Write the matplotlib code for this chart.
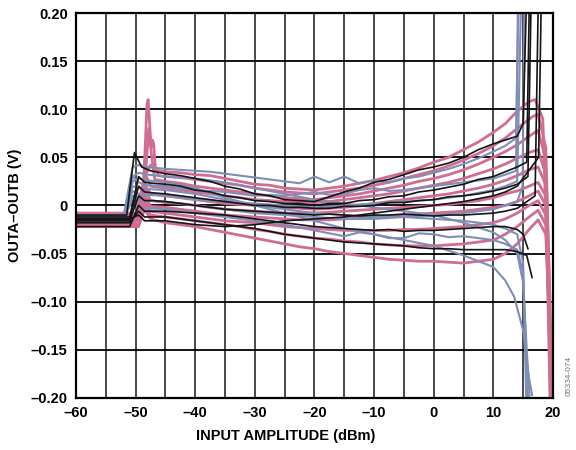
import matplotlib
matplotlib.use("Agg")
import matplotlib.pyplot as plt
import numpy as np

plt.rcParams['font.family'] = ['Liberation Sans', 'DejaVu Sans']
plt.rcParams['font.weight'] = 'bold'

PINK = "#d06d93"
BLUE = "#7f8eb6"
BLACK = "#141414"

# shared grid for the middle part of every trace (dBm)
MID_X = [-45, -42.5, -40, -37.5, -35, -32.5, -30, -27.5, -25, -22.5, -20, -17.5,
         -15, -12.5, -10, -7.5, -5, -2.5, 0, 2.5, 5, 7.5, 10]

# each trace: head x/y (turn-on region), mid y on MID_X, tail x/y (limiting region)
pink_traces = [
    dict(hx=[-60, -50, -48.5, -47.5, -46.8], hy=[-0.010, -0.010, 0.030, 0.042, 0.037],
         my=[0.035, 0.034, 0.032, 0.031, 0.028, 0.025, 0.022, 0.021, 0.018, 0.017, 0.016, 0.018, 0.020,
             0.023, 0.026, 0.030, 0.034, 0.039, 0.045, 0.050, 0.058, 0.066, 0.076],
         tx=[12, 14, 16, 17, 18.3, 19.0, 19.5], ty=[0.085, 0.098, 0.108, 0.110, 0.09, -0.05, -0.2]),
    dict(hx=[-60, -49.5, -48.8, -48.4, -48.1, -47.9, -47.7, -47.4, -47.2, -47.0, -46.7, -46.2],
         hy=[-0.014, -0.014, 0.010, 0.060, 0.105, 0.110, 0.090, 0.060, 0.068, 0.065, 0.040, 0.031],
         my=[0.030, 0.029, 0.027, 0.025, 0.023, 0.021, 0.018, 0.016, 0.014, 0.013, 0.012, 0.014, 0.016,
             0.018, 0.021, 0.024, 0.028, 0.032, 0.036, 0.041, 0.047, 0.054, 0.062],
         tx=[12, 14, 16.5, 17.5, 18.8, 19.4, 19.7], ty=[0.070, 0.080, 0.092, 0.095, 0.06, -0.08, -0.2]),
    dict(hx=[-60, -50, -48.6, -48.2, -47.8, -47.3, -46.8], hy=[-0.018, -0.018, 0.010, 0.045, 0.080, 0.050, 0.027],
         my=[0.025, 0.023, 0.020, 0.018, 0.016, 0.014, 0.012, 0.010, 0.008, 0.007, 0.006, 0.008, 0.010,
             0.012, 0.015, 0.018, 0.021, 0.025, 0.028, 0.032, 0.037, 0.043, 0.050],
         tx=[12, 14, 16, 17.5, 18.7, 19.3, 19.6], ty=[0.056, 0.063, 0.072, 0.078, 0.05, -0.1, -0.2]),
    dict(hx=[-60, -49.5, -48.2, -47.5], hy=[-0.008, -0.008, 0.030, 0.020],
         my=[0.018, 0.016, 0.014, 0.012, 0.010, 0.008, 0.006, 0.005, 0.004, 0.003, 0.003, 0.004, 0.006,
             0.008, 0.010, 0.012, 0.015, 0.018, 0.021, 0.024, 0.028, 0.033, 0.038],
         tx=[12, 14, 16, 17.5, 18.9, 19.4, 19.8], ty=[0.043, 0.049, 0.055, 0.058, 0.03, -0.12, -0.2]),
    dict(hx=[-60, -49.5, -48.3, -47.5], hy=[-0.020, -0.020, 0.020, 0.012],
         my=[0.010, 0.008, 0.006, 0.004, 0.002, 0.001, 0.000, -0.001, -0.002, -0.003, -0.004, -0.003, -0.002,
             0.000, 0.002, 0.004, 0.006, 0.008, 0.010, 0.012, 0.015, 0.018, 0.022],
         tx=[12, 14, 16, 17.5, 18.9, 19.5, 19.8], ty=[0.026, 0.031, 0.037, 0.040, 0.02, -0.1, -0.2]),
    dict(hx=[-60, -49.5, -48.3, -47.5], hy=[-0.012, -0.012, 0.015, 0.005],
         my=[0.003, 0.002, 0.000, -0.002, -0.004, -0.005, -0.006, -0.007, -0.008, -0.008, -0.008, -0.007, -0.006,
             -0.005, -0.004, -0.003, -0.002, -0.001, 0.000, 0.001, 0.003, 0.005, 0.008],
         tx=[12, 14, 16, 17.5, 18.8, 19.3, 19.7], ty=[0.012, 0.015, 0.020, 0.024, 0.01, -0.1, -0.2]),
    dict(hx=[-60, -49.5, -48.4, -47.5], hy=[-0.016, -0.016, 0.010, -0.001],
         my=[-0.002, -0.004, -0.006, -0.008, -0.010, -0.011, -0.012, -0.013, -0.014, -0.015, -0.015, -0.015, -0.014,
             -0.013, -0.012, -0.011, -0.010, -0.009, -0.008, -0.007, -0.006, -0.004, -0.002],
         tx=[12, 14, 16, 17.5, 18.8, 19.4, 19.7], ty=[0.000, 0.004, 0.010, 0.015, 0.0, -0.1, -0.2]),
    dict(hx=[-60, -49.5, -48.4, -47.5], hy=[-0.010, -0.010, 0.005, -0.006],
         my=[-0.008, -0.010, -0.012, -0.014, -0.016, -0.017, -0.018, -0.020, -0.022, -0.023, -0.024, -0.025, -0.026,
             -0.026, -0.026, -0.026, -0.025, -0.025, -0.024, -0.023, -0.022, -0.020, -0.018],
         tx=[12, 14, 16, 17.5, 18.8, 19.4, 19.7], ty=[-0.014, -0.008, 0.000, 0.005, -0.01, -0.1, -0.2]),
    dict(hx=[-60, -49.5, -48.4, -47.5], hy=[-0.022, -0.022, 0.000, -0.010],
         my=[-0.012, -0.014, -0.016, -0.018, -0.020, -0.022, -0.025, -0.027, -0.030, -0.032, -0.034, -0.035, -0.037,
             -0.038, -0.040, -0.041, -0.042, -0.042, -0.042, -0.041, -0.040, -0.038, -0.036],
         tx=[12, 14, 16, 17.5, 18.8, 19.4, 19.7], ty=[-0.030, -0.022, -0.012, -0.005, -0.02, -0.12, -0.2]),
    dict(hx=[-60, -49.5, -48.4, -47.5], hy=[-0.015, -0.015, -0.005, -0.014],
         my=[-0.018, -0.020, -0.022, -0.025, -0.028, -0.031, -0.034, -0.037, -0.040, -0.043, -0.045, -0.048, -0.050,
             -0.052, -0.054, -0.056, -0.057, -0.058, -0.058, -0.059, -0.060, -0.058, -0.056],
         tx=[12, 14, 16, 17.5, 18.8, 19.4, 19.7], ty=[-0.050, -0.040, -0.025, -0.015, -0.03, -0.12, -0.2]),
]

blue_traces = [
    dict(hx=[-60, -52, -50.5, -49.5, -48], hy=[-0.010, -0.010, 0.040, 0.042, 0.040],
         my=[0.038, 0.037, 0.036, 0.035, 0.033, 0.031, 0.029, 0.027, 0.025, 0.023, 0.030, 0.024, 0.030,
             0.023, 0.026, 0.024, 0.028, 0.030, 0.034, 0.038, 0.043, 0.049, 0.056],
         tx=[12, 13.8, 14.2], ty=[0.062, 0.070, 0.2]),
    dict(hx=[-60, -52, -50.5, -49.5, -48], hy=[-0.012, -0.012, 0.030, 0.034, 0.032],
         my=[0.030, 0.029, 0.028, 0.026, 0.024, 0.021, 0.018, 0.015, 0.012, 0.009, 0.006, 0.004, 0.002,
             0.000, -0.002, -0.004, -0.006, -0.008, -0.010, -0.014, -0.018, -0.023, -0.028],
         tx=[12, 14, 15, 15.6, 16.1], ty=[-0.036, -0.050, -0.080, -0.150, -0.2]),
    dict(hx=[-60, -52, -50.5, -49.5, -48], hy=[-0.014, -0.014, 0.025, 0.028, 0.026],
         my=[0.024, 0.021, 0.018, 0.013, 0.008, 0.004, 0.000, -0.004, -0.008, -0.012, -0.016, -0.020, -0.024,
             -0.027, -0.030, -0.033, -0.036, -0.039, -0.042, -0.047, -0.052, -0.058, -0.064],
         tx=[12, 13.5, 15, 16, 16.5], ty=[-0.078, -0.095, -0.130, -0.180, -0.197]),
    dict(hx=[-60, -52, -50.5, -49.5, -48], hy=[-0.012, -0.012, 0.020, 0.018, 0.017],
         my=[0.016, 0.014, 0.012, 0.009, 0.006, 0.003, 0.000, -0.002, -0.004, -0.006, -0.008, -0.009, -0.010,
             -0.011, -0.012, -0.012, -0.012, -0.013, -0.014, -0.015, -0.016, -0.018, -0.020],
         tx=[12, 14, 15, 15.5], ty=[-0.024, -0.030, -0.060, -0.2]),
    dict(hx=[-60, -52, -50.5, -49.5, -48], hy=[-0.010, -0.010, 0.015, 0.012, 0.011],
         my=[0.010, 0.008, 0.006, 0.005, 0.004, 0.003, 0.002, 0.001, 0.000, -0.001, -0.002, -0.001, 0.000,
             0.001, 0.002, 0.003, 0.004, 0.005, 0.006, 0.008, 0.010, 0.013, 0.016],
         tx=[12, 14, 14.6], ty=[0.020, 0.025, 0.2]),
    dict(hx=[-60, -52, -50.5, -49.5, -48], hy=[-0.016, -0.016, 0.010, 0.006, 0.005],
         my=[0.004, 0.002, 0.000, -0.002, -0.004, -0.006, -0.008, -0.009, -0.010, -0.011, -0.012, -0.013, -0.014,
             -0.014, -0.014, -0.013, -0.012, -0.011, -0.010, -0.009, -0.008, -0.006, -0.004],
         tx=[12, 14, 14.9, 15.2], ty=[0.000, 0.004, 0.020, 0.2]),
    dict(hx=[-60, -52, -50.5, -49.5, -48], hy=[-0.012, -0.012, 0.005, -0.002, -0.003],
         my=[-0.004, -0.006, -0.008, -0.010, -0.012, -0.014, -0.016, -0.018, -0.020, -0.023, -0.026, -0.029, -0.032,
             -0.028, -0.030, -0.034, -0.034, -0.029, -0.030, -0.033, -0.032, -0.034, -0.036],
         tx=[12, 14, 15, 15.8], ty=[-0.040, -0.046, -0.070, -0.2]),
    dict(hx=[-60, -52, -50.5, -49.5, -48], hy=[-0.010, -0.010, 0.030, 0.024, 0.021],
         my=[0.020, 0.018, 0.016, 0.015, 0.014, 0.012, 0.010, 0.011, 0.010, 0.012, 0.014, 0.011, 0.012,
             0.016, 0.018, 0.015, 0.016, 0.018, 0.020, 0.022, 0.024, 0.026, 0.028],
         tx=[12, 13.8, 14.1], ty=[0.032, 0.036, 0.2]),
]

black_traces = [
    dict(hx=[-60, -51.5, -50.2, -49, -47.5], hy=[-0.010, -0.010, 0.055, 0.040, 0.036],
         my=[0.033, 0.031, 0.028, 0.025, 0.020, 0.017, 0.012, 0.010, 0.006, 0.005, 0.004, 0.009, 0.014,
             0.018, 0.024, 0.027, 0.032, 0.037, 0.040, 0.044, 0.050, 0.058, 0.064],
         tx=[12, 14, 15, 15.5], ty=[0.068, 0.072, 0.085, 0.2]),
    dict(hx=[-60, -51, -49.5, -48.5, -47], hy=[-0.012, -0.012, 0.030, 0.024, 0.023],
         my=[0.022, 0.020, 0.016, 0.014, 0.010, 0.008, 0.005, 0.004, 0.002, 0.002, 0.000, 0.002, 0.002,
             0.005, 0.006, 0.009, 0.010, 0.014, 0.016, 0.019, 0.022, 0.027, 0.030],
         tx=[12, 14, 15.6, 16], ty=[0.035, 0.040, 0.045, 0.2]),
    dict(hx=[-60, -51, -49.5, -48.5, -47], hy=[-0.014, -0.014, 0.020, 0.014, 0.013],
         my=[0.012, 0.010, 0.008, 0.006, 0.004, 0.002, 0.000, 0.000, -0.002, -0.002, -0.003, -0.003, -0.001,
             -0.001, 0.000, 0.003, 0.003, 0.005, 0.006, 0.009, 0.010, 0.012, 0.015],
         tx=[12, 14, 15.8, 16.3], ty=[0.018, 0.022, 0.030, 0.2]),
    dict(hx=[-60, -51, -49.5, -48.5, -47], hy=[-0.016, -0.016, 0.010, 0.005, 0.005],
         my=[0.004, 0.002, 0.000, -0.002, -0.004, -0.005, -0.006, -0.007, -0.008, -0.009, -0.010, -0.009, -0.010,
             -0.011, -0.010, -0.010, -0.009, -0.010, -0.011, -0.010, -0.010, -0.009, -0.008],
         tx=[12, 14, 17, 17.5], ty=[-0.006, -0.003, 0.010, 0.2]),
    dict(hx=[-60, -51, -49.5, -48.5, -47], hy=[-0.022, -0.022, 0.000, -0.006, -0.006],
         my=[-0.006, -0.007, -0.008, -0.009, -0.010, -0.012, -0.014, -0.016, -0.018, -0.020, -0.022, -0.023, -0.024,
             -0.025, -0.026, -0.025, -0.027, -0.026, -0.026, -0.025, -0.024, -0.023, -0.022],
         tx=[12, 14, 15, 15.8], ty=[-0.022, -0.025, -0.030, -0.045]),
    dict(hx=[-60, -51, -49.5, -48.5, -47], hy=[-0.018, -0.018, -0.006, -0.012, -0.012],
         my=[-0.012, -0.014, -0.016, -0.018, -0.020, -0.022, -0.024, -0.027, -0.030, -0.032, -0.034, -0.036, -0.038,
             -0.039, -0.040, -0.041, -0.042, -0.044, -0.045, -0.045, -0.046, -0.046, -0.046],
         tx=[12, 14, 15.6, 16.5], ty=[-0.046, -0.048, -0.052, -0.075]),
    dict(hx=[-60, -51, -49.5, -48.5, -47], hy=[-0.014, -0.014, -0.010, -0.016, -0.016],
         my=[-0.016, -0.018, -0.020, -0.021, -0.022, -0.021, -0.020, -0.018, -0.016, -0.015, -0.014, -0.013, -0.012,
             -0.010, -0.008, -0.006, -0.004, -0.002, 0.000, 0.002, 0.004, 0.007, 0.010],
         tx=[12, 14, 17.6, 18], ty=[0.014, 0.020, 0.050, 0.2]),
]

x_ticks = [-60, -50, -40, -30, -20, -10, 0, 10, 20]
x_tick_labels = ["–60", "–50", "–40", "–30", "–20", "–10", "0", "10", "20"]
y_ticks = [0.20, 0.15, 0.10, 0.05, 0, -0.05, -0.10, -0.15, -0.20]
y_tick_labels = ["0.20", "0.15", "0.10", "0.05", "0", "–0.05", "–0.10", "–0.15", "–0.20"]


def trace_xy(t):
    xs = t["hx"] + MID_X + t["tx"]
    ys = t["hy"] + t["my"] + t["ty"]
    return xs, ys


fig = plt.figure(figsize=(5.76, 4.5), dpi=100)
ax = fig.add_axes([0.132, 0.116, 0.828, 0.855])

# grid: vertical every 5 dB, horizontal every 0.05 V
for gx in np.arange(-55, 20, 5):
    ax.axvline(gx, color="#3a3a3a", lw=1.3, zorder=1)
for gy in np.arange(-0.15, 0.2, 0.05):
    ax.axhline(gy, color="black", lw=1.3, zorder=1)

for t in pink_traces:
    xs, ys = trace_xy(t)
    ax.plot(xs, ys, color=PINK, lw=2.0, zorder=2, solid_joinstyle="round")
for t in blue_traces:
    xs, ys = trace_xy(t)
    ax.plot(xs, ys, color=BLUE, lw=1.5, zorder=3, solid_joinstyle="round")
for t in black_traces:
    xs, ys = trace_xy(t)
    ax.plot(xs, ys, color=BLACK, lw=1.2, zorder=4, solid_joinstyle="round")

ax.set_xlim(-60, 20)
ax.set_ylim(-0.2, 0.2)
ax.set_xticks(x_ticks)
ax.set_xticklabels(x_tick_labels)
ax.set_yticks(y_ticks)
ax.set_yticklabels(y_tick_labels)
ax.tick_params(length=0, labelsize=10.5, pad=6)
for s in ax.spines.values():
    s.set_linewidth(1.6)
    s.set_zorder(5)

ax.set_xlabel("INPUT AMPLITUDE (dBm)", fontsize=10.5, fontweight="bold")
ax.xaxis.set_label_coords(0.44, -0.08)
ax.set_ylabel("OUTA–OUTB (V)", fontsize=10.5, fontweight="bold", labelpad=6)

fig.text(0.988, 0.12, "05334-074", rotation=90, fontsize=6, color="#777777",
         fontweight="normal", ha="center", va="bottom")

fig.savefig("out.png", dpi=100)
